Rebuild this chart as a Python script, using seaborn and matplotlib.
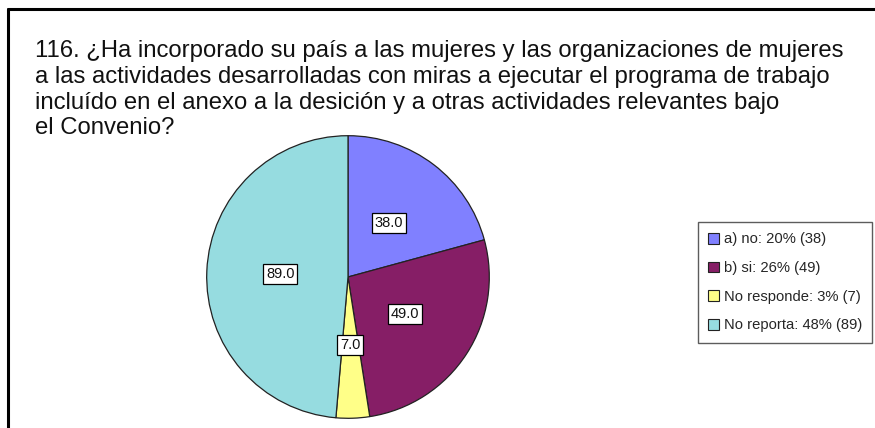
import matplotlib
matplotlib.use("Agg")
import matplotlib.pyplot as plt
import seaborn as sns
from matplotlib.patches import Patch
from matplotlib.lines import Line2D

sns.set_theme(style="white")
plt.rcParams['font.family'] = ['Liberation Sans', 'DejaVu Sans']

categories = ["a) no", "b) si", "No responde", "No reporta"]
values = [38, 49, 7, 89]
legend_pcts = ["20%", "26%", "3%", "48%"]
colors = ["#8080FF", "#861E66", "#FFFF88", "#96DCE0"]
title = ("116. ¿Ha incorporado su país a las mujeres y las organizaciones de mujeres\n"
         "a las actividades desarrolladas con miras a ejecutar el programa de trabajo\n"
         "incluído en el anexo a la desición y a otras actividades relevantes bajo\n"
         "el Convenio?")

W, H = 875, 428
fig = plt.figure(figsize=(W / 100, H / 100), dpi=100)
fig.patch.set_facecolor("white")

# frame lines (top and left)
fig.add_artist(Line2D([8 / W, 1.0], [1 - 9 / H, 1 - 9 / H], color="black", lw=2.2,
                      transform=fig.transFigure))
fig.add_artist(Line2D([8 / W, 8 / W], [0, 1 - 9 / H], color="black", lw=2.2,
                      transform=fig.transFigure))

fig.text(35 / W, 1 - 40.5 / H, title, ha="left", va="top", fontsize=17.2,
         linespacing=1.215, color="#111111")

cx, cy, r = 348, 277, 142
ax = fig.add_axes([(cx - r) / W, (H - cy - r) / H, 2 * r / W, 2 * r / H])
wedges, texts, autotexts = ax.pie(
    values, colors=colors, startangle=90, counterclock=False,
    autopct=lambda p: f"{p * sum(values) / 100:.1f}", pctdistance=0.48,
    wedgeprops=dict(edgecolor="#222222", linewidth=0.9))
for t in autotexts:
    t.set_fontsize(10.5)
    t.set_color("#111111")
    t.set_bbox(dict(boxstyle="square,pad=0.2", facecolor="white",
                    edgecolor="black", linewidth=0.9))
ax.set_xlim(-1.005, 1.005)
ax.set_ylim(-1.005, 1.005)
ax.set_aspect("equal")
ax.axis("off")

handles = [Patch(facecolor=c, edgecolor="#222222", linewidth=0.8) for c in colors]
labels = [f"{c}: {p} ({v})" for c, p, v in zip(categories, legend_pcts, values)]
leg = fig.legend(handles, labels, loc="upper left",
                 bbox_to_anchor=(698 / W, 1 - 222 / H), fontsize=10.6,
                 frameon=True, fancybox=False, labelspacing=1.0,
                 handlelength=0.75, handleheight=0.75, handletextpad=0.3,
                 borderpad=0.7, borderaxespad=0)
leg.get_frame().set_edgecolor("#333333")
leg.get_frame().set_linewidth(1.0)

fig.savefig("out.png", dpi=100, facecolor="white")
